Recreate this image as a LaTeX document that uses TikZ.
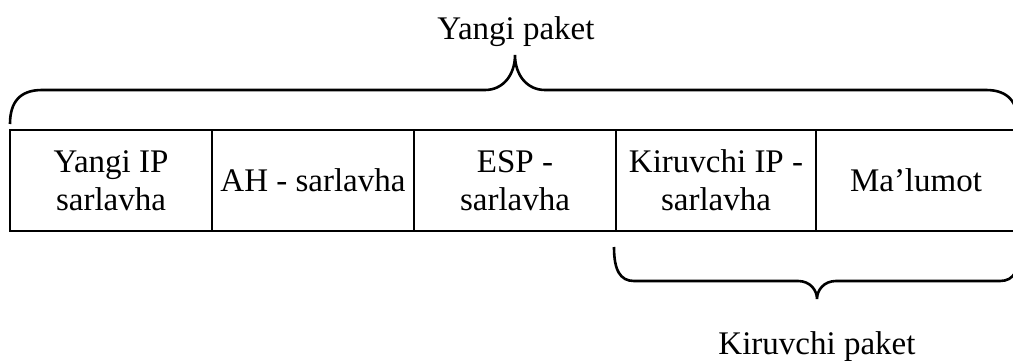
\documentclass[tikz,border=0pt]{standalone}
\usepackage{fontspec}
\setmainfont{Liberation Serif}
\newcommand{\fs}{\fontsize{33}{38}\selectfont}
\begin{document}
\begin{tikzpicture}[x=1pt,y=-1pt,line width=2.6pt,
  cell/.style={draw, minimum height=101pt, inner sep=0pt, align=center, font=\fs},
  lbl/.style={inner sep=0pt, font=\fs},
  brace/.style={draw, line width=2.6pt}]
\useasboundingbox (0,0) rectangle (1013,361);
\node[cell, minimum width=202pt] (c1) at (111,180.5) {Yangi IP\\sarlavha};
\node[cell, minimum width=202pt] (c2) at (313,180.5) {AH - sarlavha};
\node[cell, minimum width=202pt] (c3) at (515,180.5) {ESP -\\sarlavha};
\node[cell, minimum width=200pt] (c4) at (716,180.5) {Kiruvchi IP -\\sarlavha};
\node[cell, minimum width=200pt] (c5) at (916,180.5) {Ma’lumot};
\path[brace] (10,124) .. controls (10,102) and (20,90) .. (42,90) -- (485,90)
  .. controls (503,90) and (515,75) .. (515,55)
  .. controls (515,75) and (527,90) .. (545,90) -- (986,90)
  .. controls (1008,90) and (1018,102) .. (1018,124);
\path[brace] (614,247) .. controls (614,270) and (620,281) .. (634,281) -- (798,281)
  .. controls (810,281) and (817,290) .. (817,299)
  .. controls (817,290) and (824,281) .. (836,281) -- (1000,281)
  .. controls (1014,281) and (1020,270) .. (1020,247);
\node[lbl] (t1) at (516,32) {Yangi paket};
\node[lbl] (t2) at (817,347) {Kiruvchi paket};
\end{tikzpicture}
\end{document}
